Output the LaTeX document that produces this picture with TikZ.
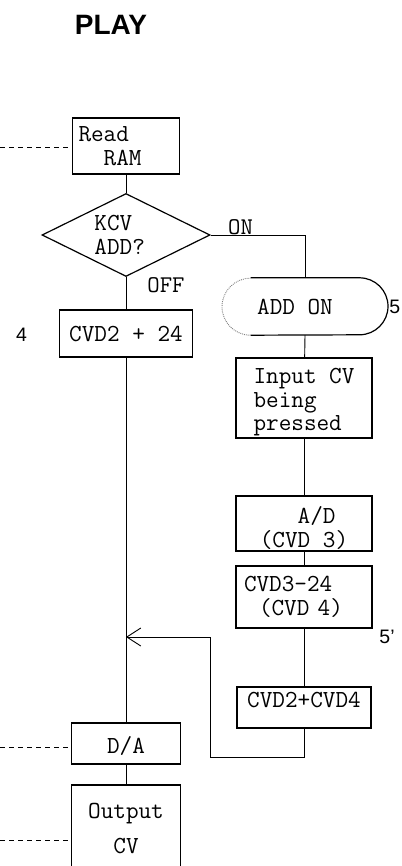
\documentclass[tikz,border=0pt]{standalone}
\usepackage{fontspec}
\setmainfont{Liberation Serif}
\setsansfont{Liberation Sans}
\usetikzlibrary{arrows.meta, positioning, shapes.geometric}

\begin{document}
\begin{tikzpicture}[
  x=1pt, y=-1pt,
  line/.style={line width=0.9pt},
  arr/.style={line, -{Straight Barb[length=14pt, width=18pt, line width=0.9pt]}},
  feed/.style={line, dash pattern=on 5pt off 4pt},
  blk/.style={draw, line width=1.2pt, inner sep=0pt, align=center,
              font=\ttfamily\fontsize{24.5}{24}\selectfont},
  dec/.style={blk, diamond, aspect=2, minimum width=168pt, minimum height=83pt, align=left},
  lbl/.style={inner sep=0pt, font=\ttfamily\fontsize{24}{24}\selectfont},
  num/.style={inner sep=0pt, font=\sffamily\fontsize{19.5}{22}\selectfont},
]
\useasboundingbox (0,0) rectangle (401,866);

% Title
\node[font=\sffamily\bfseries\fontsize{28}{30}\selectfont] (title) at (111,25) {PLAY};

% Main column
\node[blk, minimum width=107pt, minimum height=56pt, text width=95pt, align=left] (readram) at (126,146) {Read\\\hphantom{XX}RAM};
\node[dec] (addq) at (126,235) {KCV\\ADD?\hphantom{X}};
\node[blk, minimum width=133pt, minimum height=47pt] (cvdadd) at (126,333.5) {CVD2 + 24};
\node[blk, minimum width=109pt, minimum height=41pt] (da) at (126,743.5) {\rule{0pt}{23pt}D/A};
\node[blk, minimum width=109pt, minimum height=88pt, font=\ttfamily\fontsize{24.5}{35}\selectfont] (out) at (126,829) {Output\\CV};

% Branch labels
\node[lbl] (on) at (240.5,227.5) {ON};
\node[lbl] (off) at (166,285.5) {OFF};
\node[num] (four) at (21.5,335) {4};
\node[num, anchor=east] (five) at (400.5,307) {5};
\node[num] (fivep) at (387,637) {5'};

% ADD ON column
\node[lbl, font=\ttfamily\fontsize{24.5}{24}\selectfont, minimum width=166pt, minimum height=57pt] (addon) at (305,306.5) {ADD ON\hspace*{20pt}};
\draw[line width=1.2pt] ([xshift=-54.5pt]addon.north) -- ([xshift=54.5pt]addon.north)
  arc[start angle=90, end angle=-90, radius=28.5pt] -- ([xshift=-54.5pt]addon.south);
\draw[line, densely dotted, gray] ([xshift=-54.5pt]addon.south) arc[start angle=270, end angle=90, radius=28.5pt];

\node[blk, minimum width=136pt, minimum height=80pt, align=left, font=\ttfamily\fontsize{24.5}{23.5}\selectfont] (input) at (304,398) {\rule{0pt}{24pt}Input CV\\being\\pressed};
\node[blk, minimum width=136pt, minimum height=55pt, align=left] (adconv) at (304,523.5) {\rule{0pt}{27pt}\hphantom{XXX}A/D\\(CVD 3)};
\node[blk, minimum width=136pt, minimum height=62pt, text width=120pt, align=left] (sub) at (304,597) {CVD3-24\\\hspace*{15pt}(CVD 4)};
\node[blk, minimum width=134pt, minimum height=41pt] (sum) at (304,707.5) {CVD2+CVD4\rule[-16pt]{0pt}{16pt}};

% Connectors
\draw[line] (readram) -- (addq);
\draw[line] (addq) -- (cvdadd);
\draw[line] (cvdadd) -- (da);
\draw[line] (da) -- (out);
\draw[line] (addq.east) -| (addon.north);
\draw[line] (addon.south) -- (input);
\draw[line] (input) -- (adconv);
\draw[line] (adconv) -- (sub);
\draw[line] (sub) -- (sum);

% Loop back into main column
\coordinate (loopc) at (210,757);
\coordinate (merge) at (126,637);
\draw[arr] (sum.south) |- (loopc) |- (merge);

% Dashed feeds from the left
\coordinate (inram) at (0,147);
\coordinate (inda) at (0,747);
\coordinate (inout) at (0,840);
\draw[feed] (inram) -- (inram -| readram.west);
\draw[feed] (inda) -- (inda -| da.west);
\draw[feed] (inout) -- (inout -| out.west);

\end{tikzpicture}
\end{document}
